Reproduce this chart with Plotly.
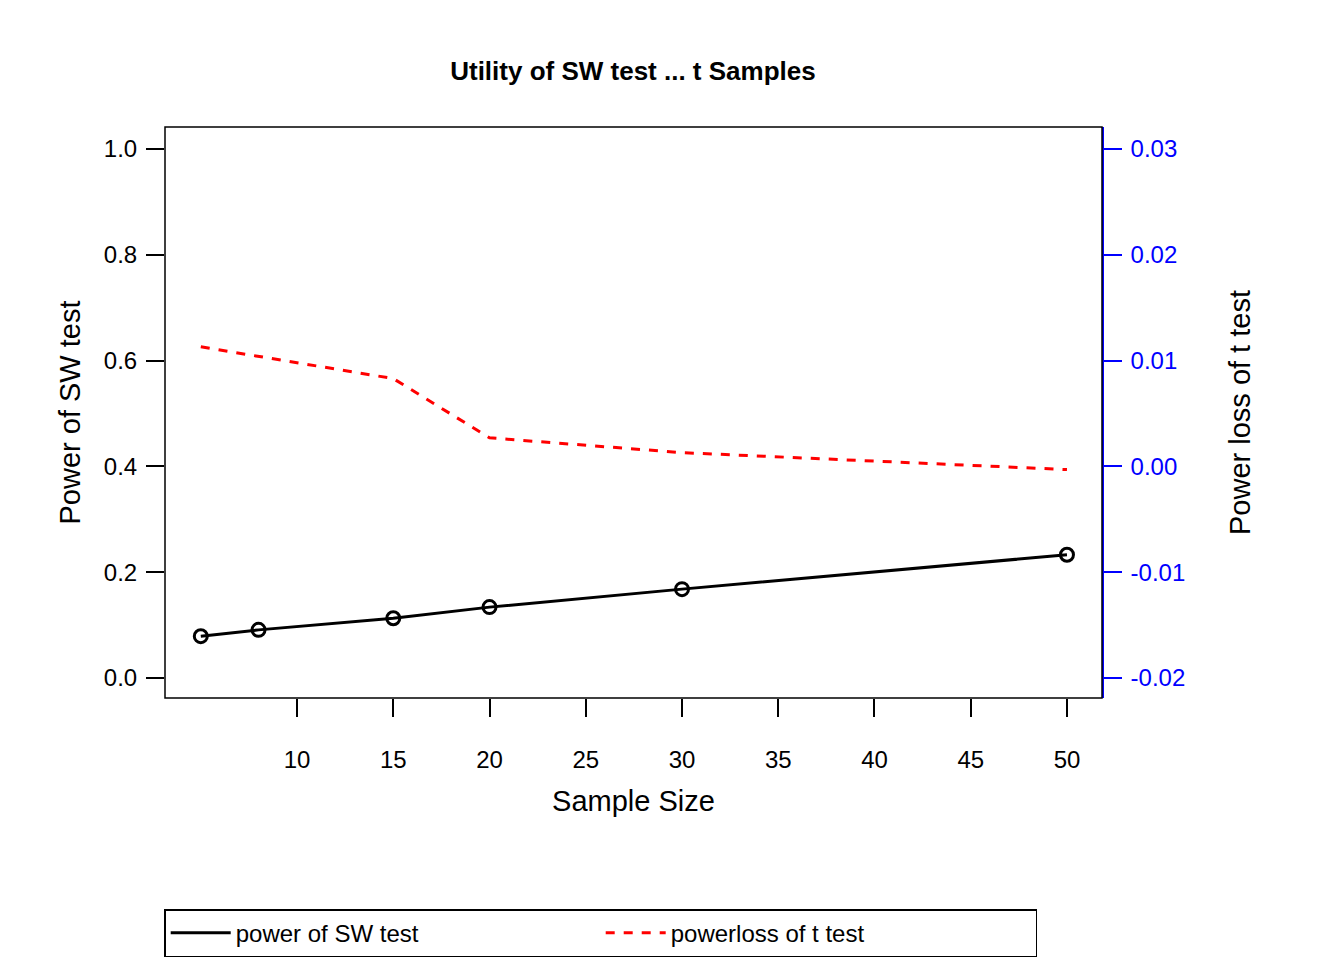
import plotly.graph_objects as go

sample_size = [5, 8, 15, 20, 30, 50]
power_sw = [0.079, 0.091, 0.113, 0.134, 0.168, 0.233]
powerloss_t = [0.0113, 0.0104, 0.0083, 0.0027, 0.0013, -0.0003]
x_ticks = list(range(10, 55, 5))
left_ticks = [0, 0.2, 0.4, 0.6, 0.8, 1.0]
right_ticks = [-0.02, -0.01, 0, 0.01, 0.02, 0.03]
right_labels = ["-0.02", "-0.01", "0.00", "0.01", "0.02", "0.03"]

fnt = dict(family="Liberation Sans, Arial", size=24, color="black")

fig = go.Figure()
fig.add_trace(go.Scatter(x=sample_size, y=power_sw, mode="lines", name="power of SW test",
                         line=dict(color="black", width=3)))
fig.add_trace(go.Scatter(x=sample_size, y=power_sw, mode="markers", showlegend=False,
                         marker=dict(symbol="circle-open", size=13, color="black",
                                     line=dict(width=3, color="black"))))
fig.add_trace(go.Scatter(x=sample_size, y=powerloss_t, mode="lines", name="powerloss of t test",
                         yaxis="y2", line=dict(color="red", width=3, dash="dash")))

fig.update_layout(
    width=1344, height=960, font=fnt,
    plot_bgcolor="white", paper_bgcolor="white",
    margin=dict(l=157, r=250, t=119, b=270, autoexpand=False),
    title=dict(text="<b>Utility of SW test ... t Samples</b>", x=0.465, xanchor="center",
               y=0.935, yanchor="middle", font=dict(size=26)),
    xaxis=dict(range=[3.14, 51.82], tickvals=x_ticks, ticks="outside", automargin=False,
               ticklen=18, tickwidth=1.5, tickcolor="black", showgrid=False, zeroline=False,
               tickfont=dict(size=24),
               title=dict(text="Sample Size", standoff=18), ticklabelstandoff=22),
    yaxis=dict(range=[-0.0378, 1.0416], tickvals=left_ticks, automargin=False,
               tickformat=".1f", ticks="outside", ticklen=18, tickwidth=1.5, tickcolor="black",
               tickfont=dict(size=24), ticklabelstandoff=4,
               showgrid=False, zeroline=False, title=dict(text="Power of SW test", standoff=14)),
    yaxis2=dict(range=[-0.02189, 0.03208], tickvals=right_ticks, ticktext=right_labels,
                overlaying="y", side="right", ticks="outside", ticklen=18, automargin=False,
                tickwidth=1.5, tickcolor="blue", tickfont=dict(color="blue", size=24),
                ticklabelstandoff=4,
                showline=True, linecolor="blue", linewidth=1.5, showgrid=False, zeroline=False,
                title=dict(text="Power loss of t test", standoff=45)),
    legend=dict(orientation="h", x=0.465, xanchor="center", y=-0.37, yanchor="top",
                bordercolor="black", borderwidth=1.5, font=dict(size=24),
                itemwidth=60, entrywidthmode="pixels", entrywidth=360),
    shapes=[dict(type="rect", xref="paper", yref="paper", x0=0, x1=1, y0=0, y1=1,
                 line=dict(color="black", width=1.5))],
)
fig.write_html("out.html")
